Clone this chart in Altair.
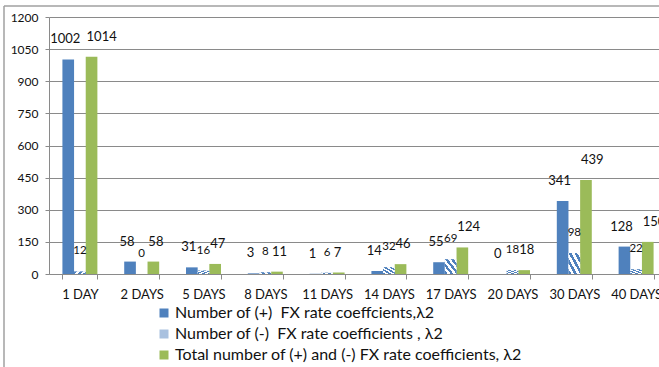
import altair as alt
import pandas as pd

# Forecast horizons and the number of significant FX rate coefficients
periods = ["1 DAY", "2 DAYS", "5 DAYS", "8 DAYS", "11 DAYS",
           "14 DAYS", "17 DAYS", "20 DAYS", "30 DAYS", "40 DAYS"]
positive = [1002, 58, 31, 3, 1, 14, 55, 0, 341, 128]
negative = [12, 0, 16, 8, 6, 32, 69, 18, 98, 22]
total = [1014, 58, 47, 11, 7, 46, 124, 18, 439, 150]

series_names = [
    "Number of (+)\u00a0 FX rate coeffcients,λ2",
    "Number of (-)\u00a0 FX rate coefficients , λ2",
    "Total number of (+) and (-) FX rate coefficients, λ2",
]
series_colors = ["#4F81BD", "#A9C1DF", "#9BBB59"]
y_ticks = [0, 150, 300, 450, 600, 750, 900, 1050, 1200]

rows = []
for i, p in enumerate(periods):
    for k, vals in enumerate([positive, negative, total]):
        rows.append({"period": p, "series": series_names[k], "order": k, "value": vals[i]})
df = pd.DataFrame(rows)

FONT = "Lato"
GRID = "#8a8a8a"
PLOT_H = 257
X_SPAN = 618  # the last group runs past the right edge of the page

x_enc = alt.X(
    "period:N", sort=periods,
    scale=alt.Scale(range=[0, X_SPAN], paddingInner=0.434, paddingOuter=0.217),
    axis=alt.Axis(title=None, labelAngle=0, tickBand="extent", tickSize=5,
                  labelPadding=9, labelFontSize=13, labelFont=FONT,
                  labelColor="#111111", domainColor=GRID, tickColor=GRID,
                  grid=False, labelOverlap=False),
)
off_enc = alt.XOffset("series:N", sort=series_names,
                      scale=alt.Scale(domain=series_names, paddingInner=0, paddingOuter=0))
y_enc = alt.Y(
    "value:Q",
    scale=alt.Scale(domain=[0, 1200], nice=False),
    axis=alt.Axis(title=None, values=y_ticks, format="d", tickSize=4, labelPadding=7,
                  labelFontSize=12, labelFont=FONT, labelColor="#111111",
                  grid=True, gridColor=GRID, domainColor=GRID, tickColor=GRID),
)

base = alt.Chart(df)

bars = base.mark_bar().encode(
    x=x_enc, xOffset=off_enc, y=y_enc,
    color=alt.Color(
        "series:N", sort=series_names,
        scale=alt.Scale(domain=series_names, range=series_colors),
        legend=alt.Legend(title=None, orient="none", legendX=107, legendY=288,
                          direction="vertical", symbolType="square", symbolSize=81,
                          symbolStrokeWidth=0, labelFont=FONT, labelFontSize=16,
                          labelOffset=3, labelColor="#111111", labelLimit=600,
                          rowPadding=5),
    ),
)

# diagonal blue/white hatching for the (-) series
stops = []
n_stripes = 4
for j in range(n_stripes):
    a = j / n_stripes
    m = (j + 0.5) / n_stripes
    b = (j + 1) / n_stripes
    stops += [alt.GradientStop(color="#4F81BD", offset=a),
              alt.GradientStop(color="#4F81BD", offset=m),
              alt.GradientStop(color="#ffffff", offset=m),
              alt.GradientStop(color="#ffffff", offset=b)]
hatch = alt.LinearGradient(gradient="linear", stops=stops, x1=0, y1=1, x2=1, y2=0)

striped = base.transform_filter(alt.datum.order == 1).mark_bar(fill=hatch).encode(
    x=x_enc, xOffset=off_enc, y=y_enc)

lbl_pos = base.transform_filter(alt.datum.order == 0).mark_text(
    font=FONT, fontSize=13, baseline="middle", dx=-3, dy=-20, color="#111111"
).encode(x=x_enc, xOffset=off_enc, y=y_enc, text=alt.Text("value:Q"))

lbl_neg = base.transform_filter(alt.datum.order == 1).mark_text(
    font=FONT, fontSize=11.5, baseline="middle", dy=-20, color="#111111"
).encode(x=x_enc, xOffset=off_enc, y=y_enc, text=alt.Text("value:Q"))

lbl_tot = base.transform_filter(alt.datum.order == 2).mark_text(
    font=FONT, fontSize=13, baseline="middle", align="left", dx=-5, dy=-20, color="#111111"
).encode(x=x_enc, xOffset=off_enc, y=y_enc, text=alt.Text("value:Q"))

# chart-area frame along the top and left edges
one = alt.Chart(pd.DataFrame({"k": [0]}))
frame_top = one.mark_rule(color="#a0a0a0", strokeWidth=1.5).encode(
    x=alt.value(-45), x2=alt.value(700), y=alt.value(-11))
frame_left = one.mark_rule(color="#a0a0a0", strokeWidth=1.5).encode(
    x=alt.value(-45), y=alt.value(-11), y2=alt.value(360))

chart = alt.layer(
    bars, striped, lbl_pos, lbl_neg, lbl_tot, frame_top, frame_left
).properties(
    width=610, height=PLOT_H,
    autosize=alt.AutoSizeParams(type="none"),
    padding={"left": 49, "top": 17, "right": 0, "bottom": 93},
    background="white",
).configure_view(stroke=None)

chart.save("out.html", embed_options={"renderer": "svg", "actions": False})
